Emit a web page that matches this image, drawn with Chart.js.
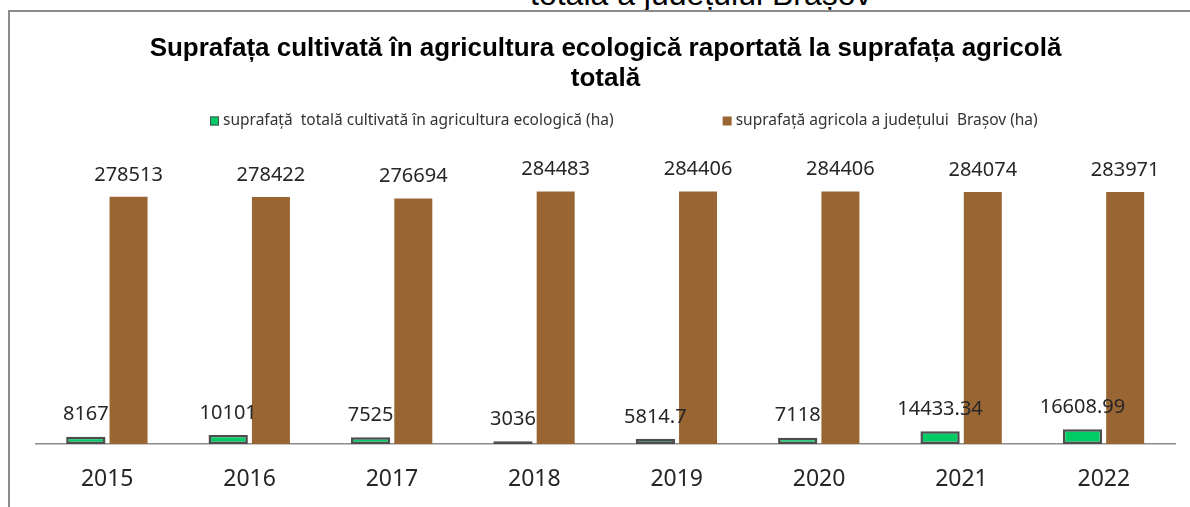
<!DOCTYPE html>
<html lang="ro">
<head>
<meta charset="UTF-8">
<title>Suprafața cultivată în agricultura ecologică</title>
<style>
  body { margin: 0; background: #fff; overflow: hidden; }
  .page { position: relative; width: 1190px; height: 507px; }
  .cut { position: absolute; left: 530px; top: -22px; font: 32px/32px "Liberation Sans", Arial, sans-serif; color: #000; white-space: nowrap; }
  .frame { position: absolute; left: 8px; top: 10px; width: 1200px; height: 520px; border-left: 2px solid #8c8c8c; border-top: 2px solid #8c8c8c; }
  .wrap { position: absolute; left: 0; top: 0; width: 1190px; height: 507px; }
</style>
</head>
<body>
<div class="page">
  <div class="cut">totală a județului Brașov</div>
  <div class="frame"></div>
  <div class="wrap"><canvas id="chart"></canvas></div>
</div>

<script src="https://cdn.jsdelivr.net/npm/chart.js"></script>
<script>
const years = ['2015', '2016', '2017', '2018', '2019', '2020', '2021', '2022'];
const ecoArea = [8167, 10101, 7525, 3036, 5814.7, 7118, 14433.34, 16608.99];
const agriArea = [278513, 278422, 276694, 284483, 284406, 284406, 284074, 283971];
const seriesNames = [
  'suprafață  totală cultivată în agricultura ecologică (ha)',
  'suprafață agricola a județului  Brașov (ha)'
];

// value labels above each bar
const valueLabels = {
  id: 'valueLabels',
  afterDatasetsDraw(chart) {
    const ctx = chart.ctx;
    ctx.save();
    ctx.font = '20px "Noto Sans", sans-serif';
    ctx.fillStyle = '#262626';
    ctx.textAlign = 'center';
    ctx.textBaseline = 'middle';
    chart.data.datasets.forEach((ds, i) => {
      chart.getDatasetMeta(i).data.forEach((bar, j) => {
        ctx.fillText(String(ds.data[j]), bar.x, bar.y - 22);
      });
    });
    ctx.restore();
  }
};

// legend drawn by hand so the wide gap between the two items can be kept
const wideLegend = {
  id: 'wideLegend',
  afterDraw(chart, args, opts) {
    const ctx = chart.ctx;
    ctx.save();
    ctx.font = opts.font;
    ctx.textBaseline = 'middle';
    ctx.textAlign = 'left';
    let x = opts.x;
    chart.data.datasets.forEach((ds) => {
      ctx.fillStyle = ds.backgroundColor;
      ctx.fillRect(x, opts.y - 4.5, 9, 9);
      if (ds.borderWidth) {
        ctx.strokeStyle = ds.borderColor;
        ctx.lineWidth = 1;
        ctx.strokeRect(x + 0.5, opts.y - 4, 8, 8);
      }
      ctx.fillStyle = '#333';
      ctx.fillText(ds.label, x + 13, opts.y);
      x += 13 + ctx.measureText(ds.label).width + opts.gap;
    });
    ctx.restore();
  }
};

new Chart(document.getElementById('chart'), {
  type: 'bar',
  data: {
    labels: years,
    datasets: [{
      label: seriesNames[0],
      data: ecoArea,
      backgroundColor: '#00cc66',
      borderColor: '#4d4d4d',
      borderWidth: 2.5,
      borderSkipped: false,
      categoryPercentage: 0.6,
      barPercentage: 0.92
    }, {
      label: seriesNames[1],
      data: agriArea,
      backgroundColor: '#996633',
      borderWidth: 0,
      categoryPercentage: 0.6,
      barPercentage: 0.89
    }]
  },
  options: {
    responsive: true,
    maintainAspectRatio: false,
    animation: false,
    layout: { padding: { left: 36, right: 15, top: 0, bottom: 13 } },
    plugins: {
      legend: { display: false },
      tooltip: { enabled: false },
      title: {
        display: true,
        text: ['Suprafața cultivată în agricultura ecologică raportată la suprafața agricolă', 'totală'],
        color: '#000',
        font: { family: '"Liberation Sans", Arial, sans-serif', size: 26, weight: 'bold', lineHeight: 30 / 26 },
        padding: { top: 34, bottom: 66 }
      },
      wideLegend: { x: 210, y: 121, gap: 109, font: '15.5px "Noto Sans", sans-serif' }
    },
    scales: {
      x: {
        grid: { display: false, drawTicks: false },
        border: { display: true, color: '#8c8c8c', width: 1.5 },
        ticks: { color: '#262626', padding: 22, font: { family: '"Noto Sans", sans-serif', size: 23 } },
        afterFit(scale) { scale.height = 50; }
      },
      y: {
        display: false,
        min: 0,
        max: 320000
      }
    }
  },
  plugins: [valueLabels, wideLegend]
});
</script>
</body>
</html>
